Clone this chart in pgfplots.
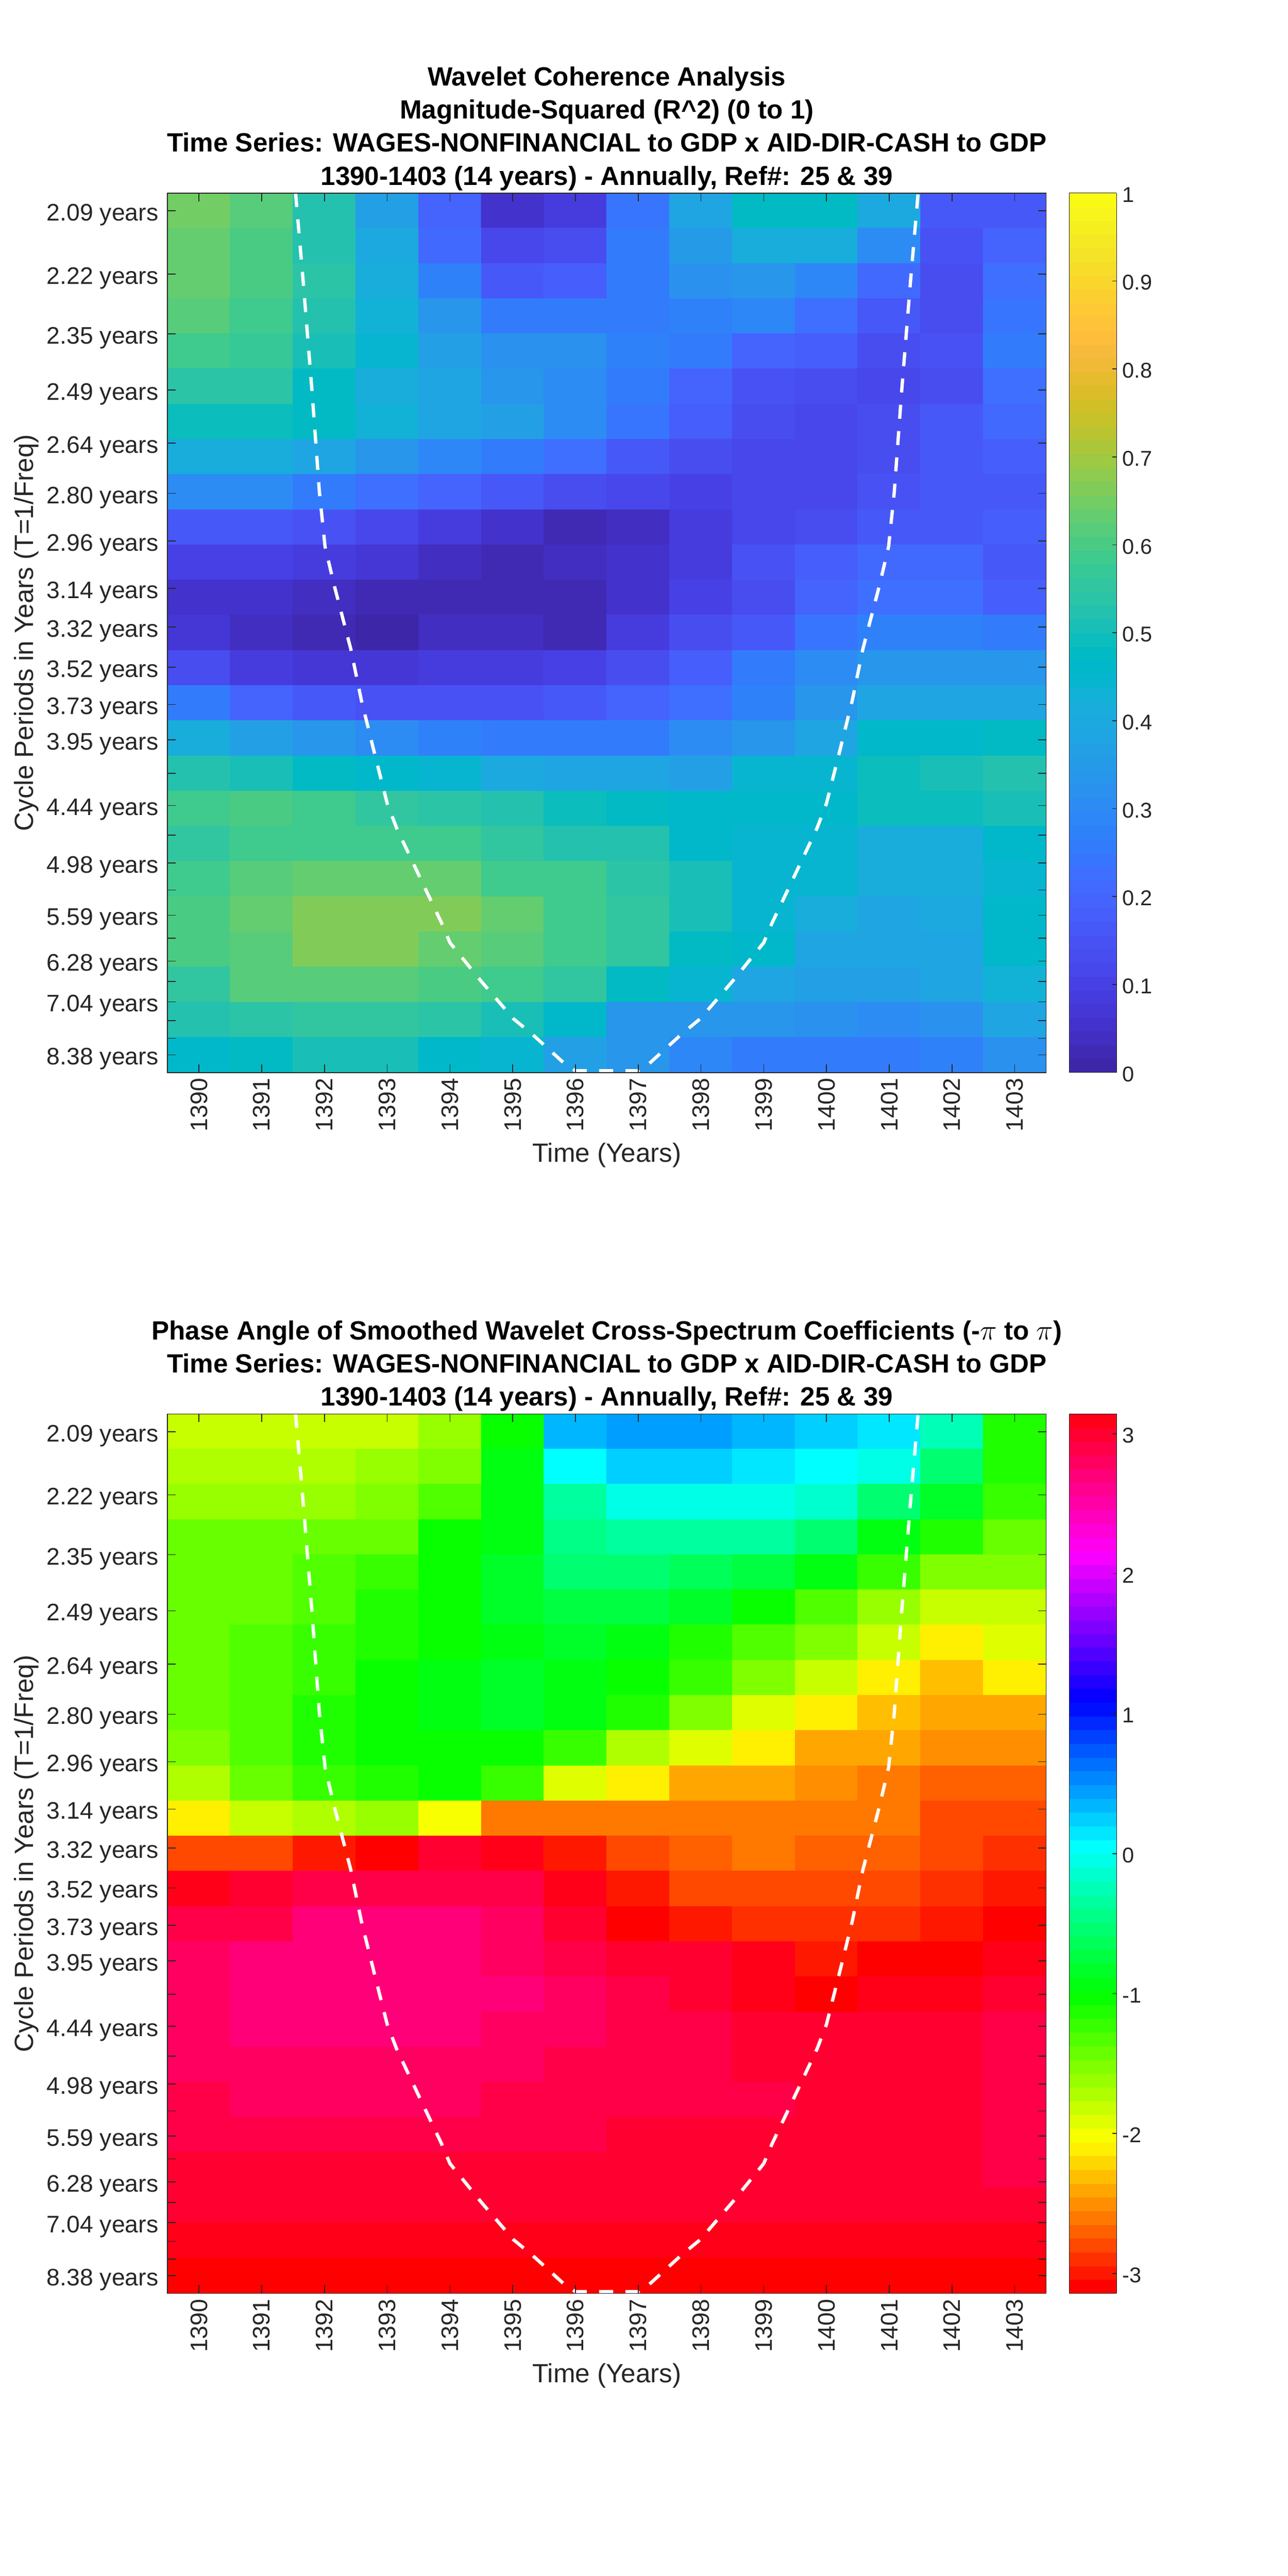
\documentclass[border=0pt]{standalone}
\usepackage{fontspec}
\setmainfont{Liberation Sans}
\usepackage{pgfplots}
\usepackage{pgfplotstable}
\pgfplotsset{compat=1.18}
\definecolor{axdark}{RGB}{38,38,38}

% coherence, one line per row (top to bottom), 1390..1403
\pgfplotstableread[row sep=\\,header=false]{
0.65\\0.61\\0.53\\0.36\\0.19\\0.05\\0.09\\0.24\\0.38\\0.48\\0.48\\0.40\\0.16\\0.16\\
0.64\\0.60\\0.53\\0.40\\0.21\\0.11\\0.13\\0.25\\0.35\\0.42\\0.42\\0.30\\0.15\\0.19\\
0.63\\0.60\\0.54\\0.42\\0.28\\0.17\\0.18\\0.25\\0.32\\0.33\\0.29\\0.21\\0.14\\0.22\\
0.62\\0.59\\0.53\\0.43\\0.33\\0.26\\0.26\\0.26\\0.28\\0.29\\0.22\\0.16\\0.13\\0.24\\
0.59\\0.57\\0.51\\0.44\\0.37\\0.32\\0.32\\0.27\\0.25\\0.20\\0.18\\0.14\\0.15\\0.25\\
0.54\\0.54\\0.47\\0.41\\0.38\\0.34\\0.31\\0.26\\0.19\\0.15\\0.14\\0.12\\0.14\\0.23\\
0.49\\0.49\\0.47\\0.43\\0.38\\0.36\\0.31\\0.24\\0.18\\0.14\\0.12\\0.13\\0.16\\0.21\\
0.42\\0.42\\0.39\\0.34\\0.29\\0.26\\0.23\\0.16\\0.13\\0.12\\0.12\\0.14\\0.16\\0.18\\
0.31\\0.31\\0.26\\0.23\\0.19\\0.17\\0.13\\0.11\\0.10\\0.11\\0.12\\0.15\\0.16\\0.17\\
0.17\\0.17\\0.15\\0.11\\0.08\\0.05\\0.03\\0.04\\0.08\\0.11\\0.13\\0.16\\0.17\\0.18\\
0.10\\0.10\\0.09\\0.07\\0.04\\0.02\\0.04\\0.06\\0.09\\0.15\\0.18\\0.21\\0.21\\0.16\\
0.05\\0.05\\0.04\\0.02\\0.02\\0.02\\0.03\\0.05\\0.10\\0.14\\0.19\\0.23\\0.23\\0.18\\
0.07\\0.04\\0.03\\0.01\\0.04\\0.04\\0.03\\0.09\\0.13\\0.17\\0.24\\0.28\\0.28\\0.25\\
0.13\\0.08\\0.07\\0.07\\0.08\\0.09\\0.10\\0.13\\0.18\\0.25\\0.31\\0.34\\0.34\\0.33\\
0.25\\0.20\\0.17\\0.15\\0.15\\0.15\\0.16\\0.19\\0.22\\0.28\\0.34\\0.39\\0.39\\0.38\\
0.42\\0.36\\0.33\\0.30\\0.28\\0.26\\0.25\\0.25\\0.30\\0.33\\0.39\\0.46\\0.46\\0.47\\
0.52\\0.50\\0.48\\0.46\\0.45\\0.40\\0.38\\0.38\\0.37\\0.44\\0.45\\0.49\\0.51\\0.53\\
0.59\\0.60\\0.58\\0.55\\0.54\\0.52\\0.49\\0.47\\0.46\\0.46\\0.46\\0.49\\0.49\\0.51\\
0.56\\0.58\\0.59\\0.59\\0.58\\0.55\\0.53\\0.52\\0.46\\0.45\\0.44\\0.41\\0.42\\0.46\\
0.59\\0.62\\0.63\\0.64\\0.64\\0.59\\0.58\\0.54\\0.51\\0.45\\0.44\\0.42\\0.41\\0.45\\
0.60\\0.64\\0.66\\0.66\\0.67\\0.63\\0.59\\0.55\\0.50\\0.45\\0.42\\0.39\\0.40\\0.46\\
0.60\\0.62\\0.66\\0.66\\0.64\\0.62\\0.59\\0.55\\0.48\\0.46\\0.39\\0.38\\0.38\\0.46\\
0.56\\0.61\\0.62\\0.62\\0.60\\0.58\\0.55\\0.47\\0.44\\0.39\\0.37\\0.37\\0.38\\0.43\\
0.53\\0.54\\0.56\\0.56\\0.54\\0.51\\0.46\\0.33\\0.33\\0.34\\0.32\\0.31\\0.32\\0.38\\
0.46\\0.47\\0.50\\0.50\\0.46\\0.44\\0.37\\0.33\\0.29\\0.26\\0.25\\0.25\\0.27\\0.32\\
}\cohtab

% phase angle, same layout
\pgfplotstableread[row sep=\\,header=false]{
-1.78\\-1.78\\-1.78\\-1.78\\-1.66\\-1.00\\0.37\\0.45\\0.47\\0.37\\0.25\\0.10\\-0.20\\-1.10\\
-1.72\\-1.72\\-1.72\\-1.60\\-1.50\\-0.98\\0.00\\0.25\\0.25\\0.12\\0.00\\-0.05\\-0.55\\-1.10\\
-1.60\\-1.60\\-1.58\\-1.50\\-1.30\\-0.95\\-0.30\\-0.08\\-0.08\\-0.06\\-0.15\\-0.50\\-0.85\\-1.20\\
-1.45\\-1.45\\-1.42\\-1.38\\-1.05\\-0.90\\-0.45\\-0.30\\-0.30\\-0.35\\-0.55\\-0.95\\-1.10\\-1.40\\
-1.40\\-1.40\\-1.30\\-1.25\\-1.03\\-0.85\\-0.55\\-0.50\\-0.60\\-0.70\\-0.95\\-1.20\\-1.55\\-1.55\\
-1.38\\-1.38\\-1.32\\-1.12\\-1.03\\-0.85\\-0.75\\-0.75\\-0.85\\-1.05\\-1.28\\-1.60\\-1.80\\-1.80\\
-1.38\\-1.30\\-1.25\\-1.12\\-1.05\\-0.90\\-0.80\\-0.98\\-1.10\\-1.30\\-1.55\\-1.85\\-2.08\\-1.95\\
-1.38\\-1.30\\-1.25\\-1.03\\-0.95\\-0.88\\-0.90\\-1.03\\-1.20\\-1.55\\-1.85\\-2.10\\-2.30\\-2.13\\
-1.38\\-1.30\\-1.15\\-1.05\\-0.90\\-0.88\\-0.95\\-1.15\\-1.55\\-1.90\\-2.10\\-2.28\\-2.36\\-2.36\\
-1.50\\-1.35\\-1.15\\-1.05\\-1.03\\-1.03\\-1.20\\-1.70\\-1.95\\-2.12\\-2.36\\-2.45\\-2.55\\-2.48\\
-1.72\\-1.42\\-1.20\\-1.12\\-1.05\\-1.25\\-1.90\\-2.12\\-2.38\\-2.38\\-2.48\\-2.60\\-2.70\\-2.70\\
-2.15\\-1.85\\-1.68\\-1.65\\-2.00\\-2.58\\-2.65\\-2.65\\-2.57\\-2.57\\-2.57\\-2.62\\-2.78\\-2.78\\
-2.80\\-2.80\\-2.95\\-3.12\\2.96\\3.05\\-3.00\\-2.80\\-2.72\\-2.60\\-2.70\\-2.72\\-2.78\\-2.90\\
3.10\\3.00\\2.90\\2.85\\2.85\\2.92\\3.08\\-3.00\\-2.82\\-2.82\\-2.82\\-2.82\\-2.90\\-2.98\\
2.88\\2.85\\2.70\\2.70\\2.70\\2.80\\2.98\\-3.12\\-2.98\\-2.90\\-2.90\\-2.90\\-2.98\\-3.12\\
2.75\\2.72\\2.70\\2.70\\2.70\\2.82\\2.90\\3.00\\3.02\\3.12\\-3.00\\-3.10\\-3.12\\3.05\\
2.76\\2.70\\2.70\\2.70\\2.70\\2.68\\2.80\\2.90\\2.95\\3.05\\-3.13\\3.07\\3.07\\2.95\\
2.78\\2.70\\2.70\\2.70\\2.70\\2.78\\2.80\\2.90\\2.92\\2.95\\3.02\\3.00\\3.00\\2.93\\
2.78\\2.78\\2.78\\2.78\\2.78\\2.78\\2.85\\2.85\\2.90\\2.95\\3.00\\3.02\\3.02\\2.93\\
2.90\\2.82\\2.82\\2.82\\2.82\\2.88\\2.88\\2.88\\2.92\\2.92\\2.95\\3.03\\2.95\\2.93\\
2.88\\2.88\\2.88\\2.88\\2.88\\2.88\\2.88\\2.95\\2.95\\2.95\\3.02\\3.02\\2.95\\2.93\\
2.97\\2.97\\2.97\\2.97\\2.97\\2.97\\2.97\\2.97\\2.97\\3.03\\3.03\\3.03\\3.03\\2.92\\
2.98\\2.98\\2.98\\2.98\\2.98\\2.98\\2.98\\2.98\\3.03\\3.03\\3.03\\3.03\\3.03\\3.03\\
3.05\\3.05\\3.05\\3.05\\3.05\\3.05\\3.05\\3.05\\3.05\\3.05\\3.05\\3.12\\3.12\\3.12\\
-3.14\\-3.14\\-3.14\\-3.14\\-3.14\\-3.14\\-3.14\\-3.14\\-3.14\\-3.14\\-3.14\\-3.14\\-3.14\\-3.05\\
}\phasetab

\pgfplotsset{
  colormap={parula64}{
    rgb=(0.2422,0.1504,0.6603) rgb=(0.2504,0.1650,0.7076) rgb=(0.2578,0.1818,0.7511) rgb=(0.2647,0.1978,0.7952)
    rgb=(0.2706,0.2147,0.8364) rgb=(0.2751,0.2342,0.8710) rgb=(0.2783,0.2559,0.8991) rgb=(0.2803,0.2782,0.9221)
    rgb=(0.2813,0.3006,0.9414) rgb=(0.2810,0.3228,0.9579) rgb=(0.2795,0.3447,0.9717) rgb=(0.2760,0.3667,0.9829)
    rgb=(0.2699,0.3892,0.9906) rgb=(0.2602,0.4123,0.9952) rgb=(0.2440,0.4358,0.9988) rgb=(0.2206,0.4603,0.9973)
    rgb=(0.1963,0.4847,0.9892) rgb=(0.1834,0.5074,0.9798) rgb=(0.1786,0.5289,0.9682) rgb=(0.1764,0.5499,0.9520)
    rgb=(0.1687,0.5703,0.9359) rgb=(0.1540,0.5902,0.9218) rgb=(0.1460,0.6091,0.9079) rgb=(0.1380,0.6276,0.8973)
    rgb=(0.1248,0.6459,0.8883) rgb=(0.1113,0.6635,0.8763) rgb=(0.0952,0.6798,0.8598) rgb=(0.0689,0.6948,0.8394)
    rgb=(0.0297,0.7082,0.8163) rgb=(0.0036,0.7203,0.7917) rgb=(0.0067,0.7312,0.7660) rgb=(0.0433,0.7411,0.7394)
    rgb=(0.0964,0.7500,0.7120) rgb=(0.1408,0.7584,0.6842) rgb=(0.1717,0.7670,0.6554) rgb=(0.1938,0.7758,0.6251)
    rgb=(0.2161,0.7843,0.5923) rgb=(0.2470,0.7918,0.5567) rgb=(0.2906,0.7973,0.5188) rgb=(0.3406,0.8008,0.4789)
    rgb=(0.3909,0.8029,0.4354) rgb=(0.4456,0.8024,0.3909) rgb=(0.5044,0.7993,0.3480) rgb=(0.5616,0.7942,0.3045)
    rgb=(0.6174,0.7876,0.2612) rgb=(0.6720,0.7793,0.2227) rgb=(0.7242,0.7698,0.1910) rgb=(0.7738,0.7598,0.1646)
    rgb=(0.8203,0.7498,0.1535) rgb=(0.8634,0.7406,0.1596) rgb=(0.9035,0.7330,0.1774) rgb=(0.9393,0.7288,0.2100)
    rgb=(0.9728,0.7298,0.2394) rgb=(0.9956,0.7434,0.2371) rgb=(0.9970,0.7659,0.2199) rgb=(0.9952,0.7893,0.2028)
    rgb=(0.9892,0.8136,0.1885) rgb=(0.9786,0.8386,0.1766) rgb=(0.9676,0.8639,0.1643) rgb=(0.9610,0.8890,0.1537)
    rgb=(0.9597,0.9135,0.1423) rgb=(0.9628,0.9373,0.1265) rgb=(0.9691,0.9606,0.1064) rgb=(0.9769,0.9839,0.0805)
  },
  colormap={hsv64}{
    rgb=(1,0,0) rgb=(1,0.09375,0) rgb=(1,0.1875,0) rgb=(1,0.28125,0) rgb=(1,0.375,0) rgb=(1,0.46875,0) rgb=(1,0.5625,0) rgb=(1,0.65625,0)
    rgb=(1,0.75,0) rgb=(1,0.84375,0) rgb=(1,0.9375,0) rgb=(0.96875,1,0) rgb=(0.875,1,0) rgb=(0.78125,1,0) rgb=(0.6875,1,0) rgb=(0.59375,1,0)
    rgb=(0.5,1,0) rgb=(0.40625,1,0) rgb=(0.3125,1,0) rgb=(0.21875,1,0) rgb=(0.125,1,0) rgb=(0.03125,1,0) rgb=(0,1,0.0625) rgb=(0,1,0.15625)
    rgb=(0,1,0.25) rgb=(0,1,0.34375) rgb=(0,1,0.4375) rgb=(0,1,0.53125) rgb=(0,1,0.625) rgb=(0,1,0.71875) rgb=(0,1,0.8125) rgb=(0,1,0.90625)
    rgb=(0,1,1) rgb=(0,0.90625,1) rgb=(0,0.8125,1) rgb=(0,0.71875,1) rgb=(0,0.625,1) rgb=(0,0.53125,1) rgb=(0,0.4375,1) rgb=(0,0.34375,1)
    rgb=(0,0.25,1) rgb=(0,0.15625,1) rgb=(0,0.0625,1) rgb=(0.03125,0,1) rgb=(0.125,0,1) rgb=(0.21875,0,1) rgb=(0.3125,0,1) rgb=(0.40625,0,1)
    rgb=(0.5,0,1) rgb=(0.59375,0,1) rgb=(0.6875,0,1) rgb=(0.78125,0,1) rgb=(0.875,0,1) rgb=(0.96875,0,1) rgb=(1,0,0.9375) rgb=(1,0,0.84375)
    rgb=(1,0,0.75) rgb=(1,0,0.65625) rgb=(1,0,0.5625) rgb=(1,0,0.46875) rgb=(1,0,0.375) rgb=(1,0,0.28125) rgb=(1,0,0.1875) rgb=(1,0,0.09375)
  },
  wavelet/.style={
    scale only axis, width=533.1pt, height=533.6pt, anchor=south west,
    xmin=1389.5, xmax=1403.5, ymin=0, ymax=25, y dir=reverse,
    xtick={1390,1391,1392,1393,1394,1395,1396,1397,1398,1399,1400,1401,1402,1403},
    xticklabels={1390,1391,1392,1393,1394,1395,1396,1397,1398,1399,1400,1401,1402,1403},
    x tick label style={rotate=90, anchor=east},
    y tick label style={xshift=-2pt, yshift=-2.5pt},
    ytick={0.505,2.302,4.002,5.595,7.111,8.538,9.888,11.233,12.337,13.475,14.537,15.545,16.499,17.409,18.255,19.046,19.815,20.531,21.181,21.831,22.416,22.991,23.522,24.031,24.497},
    yticklabels={2.09 years,2.22 years,2.35 years,2.49 years,2.64 years,2.80 years,2.96 years,3.14 years,3.32 years,3.52 years,3.73 years,3.95 years,,4.44 years,,4.98 years,,5.59 years,,6.28 years,,7.04 years,,,8.38 years},
    tick align=inside, major tick length=5pt, tick style={axdark, line width=0.5pt},
    axis line style={axdark, line width=0.5pt},
    ticklabel style={font=\fontsize{14.5}{16}\selectfont, text=axdark},
    xlabel={Time (Years)}, ylabel={Cycle Periods in Years (T=1/Freq)}, ylabel shift=-2pt,
    label style={font=\fontsize{16}{18}\selectfont, text=axdark},
    title style={font=\bfseries\fontsize{16}{20.1}\selectfont, align=center, yshift=-8pt},
    point meta=explicit, colormap access=piecewise constant, colorbar sampled,
    axis on top,
  },
  coi/.style={white, line width=2pt, dash pattern=on 8.5pt off 7.5pt},
  barstyle/.style={
    width=28.75pt, at={(1.0263,1)}, anchor=north west,
    samples=65, tick align=inside, major tick length=2.5pt,
    ticklabel style={font=\fontsize{13}{15}\selectfont, text=axdark},
    y tick label style={xshift=0pt, yshift=-1pt},
    tick style={axdark, line width=0.5pt}, axis line style={axdark, line width=0.5pt},
    ytick pos=right, yticklabel pos=right,
  },
}

\begin{document}
\begin{tikzpicture}
\path[use as bounding box] (0pt,0pt) rectangle (781.25pt,1563pt);

\begin{axis}[wavelet, at={(101.65pt,912.25pt)},
  colormap name=parula64, point meta min=0, point meta max=1,
  title={Wavelet Coherence Analysis\\Magnitude-Squared (R\^{}2) (0 to 1)\\Time Series: WAGES-NONFINANCIAL to GDP x AID-DIR-CASH to GDP\\1390-1403 (14 years) - Annually, Ref\#: 25 \& 39},
  colorbar style={barstyle, ytick={0,0.1,0.2,0.3,0.4,0.5,0.6,0.7,0.8,0.9,1}, yticklabels={0,0.1,0.2,0.3,0.4,0.5,0.6,0.7,0.8,0.9,1}},
]
\addplot[matrix plot*, mesh/cols=14, mesh/ordering=x varies] table[x index=0, y index=0, x expr={1390+mod(\coordindex,14)}, y expr={floor((\coordindex+0.5)/14)+0.5}, meta index=0] {\cohtab};
\addplot[coi, forget plot] coordinates {
 (1391.54,0) (1391.66,2.48) (1391.80,5.58) (1391.92,8.50) (1392.01,10.05) (1392.16,11.18) (1392.42,12.96) (1392.59,14.43) (1392.80,15.94) (1393.00,17.35) (1393.15,18.05) (1393.51,19.41) (1393.87,20.76) (1394.00,21.31) (1394.49,22.39) (1395.01,23.47) (1395.31,23.91) (1395.84,24.77) (1396.00,24.95)
 (1397.00,24.95) (1397.16,24.77) (1397.69,23.91) (1397.99,23.47) (1398.51,22.39) (1399.00,21.31) (1399.13,20.76) (1399.49,19.41) (1399.85,18.05) (1400.00,17.35) (1400.20,15.94) (1400.41,14.43) (1400.58,12.96) (1400.84,11.18) (1400.99,10.05) (1401.08,8.50) (1401.20,5.58) (1401.34,2.48) (1401.46,0)
};
\end{axis}

\begin{axis}[wavelet, at={(101.65pt,171.5pt)},
  colormap name=hsv64, point meta min=-3.14159, point meta max=3.14159,
  title={Phase Angle of Smoothed Wavelet Cross-Spectrum Coefficients (-$\pi$ to $\pi$)\\Time Series: WAGES-NONFINANCIAL to GDP x AID-DIR-CASH to GDP\\1390-1403 (14 years) - Annually, Ref\#: 25 \& 39},
  colorbar style={barstyle, ytick={-3,-2,-1,0,1,2,3}, yticklabels={-3,-2,-1,0,1,2,3}},
]
\addplot[matrix plot*, mesh/cols=14, mesh/ordering=x varies] table[x index=0, y index=0, x expr={1390+mod(\coordindex,14)}, y expr={floor((\coordindex+0.5)/14)+0.5}, meta index=0] {\phasetab};
\addplot[coi, forget plot] coordinates {
 (1391.54,0) (1391.66,2.48) (1391.80,5.58) (1391.92,8.50) (1392.01,10.05) (1392.16,11.18) (1392.42,12.96) (1392.59,14.43) (1392.80,15.94) (1393.00,17.35) (1393.15,18.05) (1393.51,19.41) (1393.87,20.76) (1394.00,21.31) (1394.49,22.39) (1395.01,23.47) (1395.31,23.91) (1395.84,24.77) (1396.00,24.95)
 (1397.00,24.95) (1397.16,24.77) (1397.69,23.91) (1397.99,23.47) (1398.51,22.39) (1399.00,21.31) (1399.13,20.76) (1399.49,19.41) (1399.85,18.05) (1400.00,17.35) (1400.20,15.94) (1400.41,14.43) (1400.58,12.96) (1400.84,11.18) (1400.99,10.05) (1401.08,8.50) (1401.20,5.58) (1401.34,2.48) (1401.46,0)
};
\end{axis}
\end{tikzpicture}
\end{document}
